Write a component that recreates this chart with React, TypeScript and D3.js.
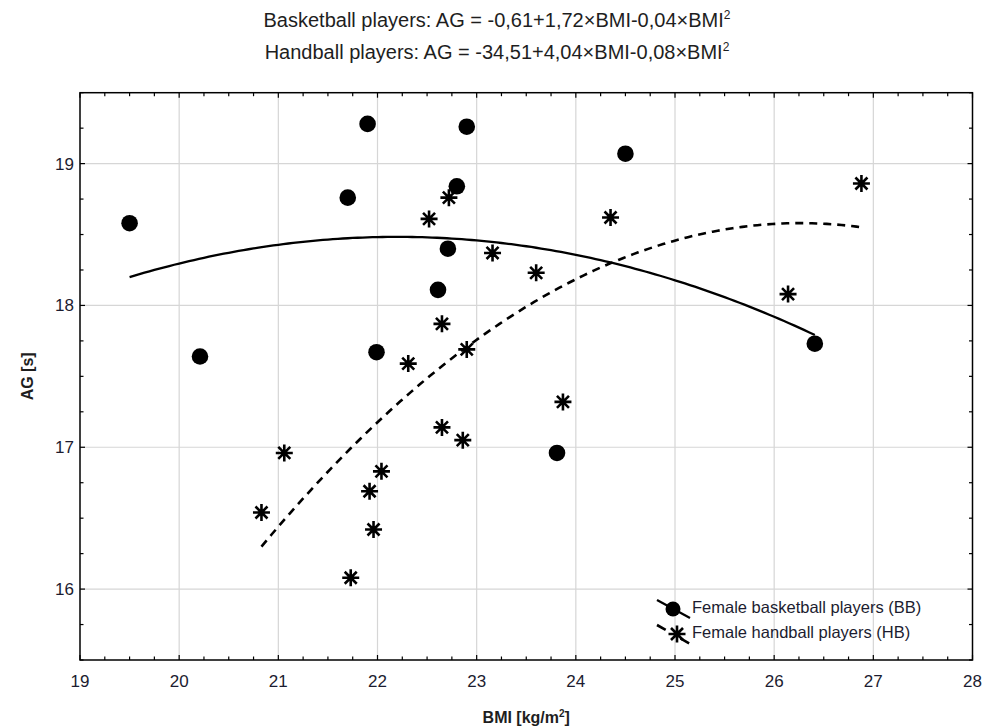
import React from 'react';
import * as d3 from 'd3';

// Female basketball players (BB): BMI and AG values
const bbBMI = [19.5, 20.21, 21.7, 21.9, 21.99, 22.61, 22.71, 22.8, 22.9, 23.81, 24.5, 26.41];
const bbAG = [18.58, 17.64, 18.76, 19.28, 17.67, 18.11, 18.4, 18.84, 19.26, 16.96, 19.07, 17.73];

// Female handball players (HB)
const hbBMI = [20.83, 21.06, 21.73, 21.92, 21.96, 22.04, 22.31, 22.52, 22.65, 22.65, 22.72, 22.86, 22.9, 23.16, 23.6, 23.87, 24.35, 26.14, 26.88];
const hbAG = [16.54, 16.96, 16.08, 16.69, 16.42, 16.83, 17.59, 18.61, 17.87, 17.14, 18.76, 17.05, 17.69, 18.37, 18.23, 17.32, 18.62, 18.08, 18.86];

const xTicks = [19, 20, 21, 22, 23, 24, 25, 26, 27, 28];
const yTicks = [16, 17, 18, 19];

const titleLines = [
  'Basketball players: AG = -0,61+1,72×BMI-0,04×BMI',
  'Handball players: AG = -34,51+4,04×BMI-0,08×BMI',
];
const legendLabels = ['Female basketball players (BB)', 'Female handball players (HB)'];

const W = 982, H = 727;
const plot = { left: 80, right: 972.5, top: 92.7, bottom: 660 };
const font = '"Liberation Sans", Arial, sans-serif';

// least squares quadratic fit y = a + b*x + c*x^2
function quadFit(xs: number[], ys: number[]) {
  const m = d3.mean(xs)!;
  const u = xs.map(v => v - m);
  const s = (k: number) => d3.sum(u, v => Math.pow(v, k));
  const t = (k: number) => d3.sum(u, (v, i) => Math.pow(v, k) * ys[i]);
  const A = [
    [s(0), s(1), s(2), t(0)],
    [s(1), s(2), s(3), t(1)],
    [s(2), s(3), s(4), t(2)],
  ];
  for (let i = 0; i < 3; i++) {
    for (let j = i + 1; j < 3; j++) {
      const f = A[j][i] / A[i][i];
      for (let k = i; k < 4; k++) A[j][k] -= f * A[i][k];
    }
  }
  const c = [0, 0, 0];
  for (let i = 2; i >= 0; i--) {
    let v = A[i][3];
    for (let k = i + 1; k < 3; k++) v -= A[i][k] * c[k];
    c[i] = v / A[i][i];
  }
  return (x: number) => c[0] + c[1] * (x - m) + c[2] * (x - m) * (x - m);
}

const asterisk = (r: number) => {
  const parts: string[] = [];
  for (let k = 0; k < 4; k++) {
    const a = (k * Math.PI) / 4;
    const dx = r * Math.cos(a), dy = r * Math.sin(a);
    parts.push(`M${-dx},${-dy}L${dx},${dy}`);
  }
  return parts.join('');
};

export default function App() {
  const x = d3.scaleLinear().domain([19, 28]).range([plot.left, plot.right]);
  const y = d3.scaleLinear().domain([15.5, 19.5]).range([plot.bottom, plot.top]);

  const bbFit = quadFit(bbBMI, bbAG);
  const hbFit = quadFit(hbBMI, hbAG);
  const line = d3.line<number[]>().x(d => x(d[0])).y(d => y(d[1])).curve(d3.curveLinear);
  const curve = (xs: number[], f: (v: number) => number) => {
    const [lo, hi] = d3.extent(xs) as [number, number];
    const pts = d3.range(lo, hi, 0.05).concat([hi]).map(v => [v, f(v)]);
    return line(pts) || '';
  };

  const xMinor = d3.range(19, 28.001, 0.25);
  const yMinor = d3.range(15.5, 19.501, 0.25);
  const star = asterisk(8.5);

  return (
    <svg width={W} height={H} style={{ position: 'absolute', left: 0, top: 0, background: '#fff' }}>
      <rect width={W} height={H} fill="#fff" />
      {/* title */}
      {titleLines.map((t, i) => (
        <text key={t} x={497} y={27 + i * 32} textAnchor="middle" fontFamily={font} fontSize={20} fill="#1e1e1e">
          {t}
          <tspan fontSize={12} dy={-8}>2</tspan>
        </text>
      ))}

      {/* grid */}
      {xTicks.slice(1, -1).map(v => (
        <line key={'gx' + v} x1={x(v)} x2={x(v)} y1={plot.top} y2={plot.bottom} stroke="#d6d6d6" strokeWidth={1.2} />
      ))}
      {yTicks.map(v => (
        <line key={'gy' + v} x1={plot.left} x2={plot.right} y1={y(v)} y2={y(v)} stroke="#d6d6d6" strokeWidth={1.2} />
      ))}

      {/* inward ticks on all four sides */}
      {xMinor.map(v => {
        const len = Number.isInteger(v) ? 5 : 3.5;
        return (
          <g key={'tx' + v} stroke="#000" strokeWidth={1.2}>
            <line x1={x(v)} x2={x(v)} y1={plot.bottom} y2={plot.bottom - len} />
            <line x1={x(v)} x2={x(v)} y1={plot.top} y2={plot.top + len} />
          </g>
        );
      })}
      {yMinor.map(v => {
        const len = Number.isInteger(v) ? 5 : 3.5;
        return (
          <g key={'ty' + v} stroke="#000" strokeWidth={1.2}>
            <line x1={plot.left} x2={plot.left + len} y1={y(v)} y2={y(v)} />
            <line x1={plot.right} x2={plot.right - len} y1={y(v)} y2={y(v)} />
          </g>
        );
      })}
      <rect x={plot.left} y={plot.top} width={plot.right - plot.left} height={plot.bottom - plot.top}
        fill="none" stroke="#000" strokeWidth={1.5} />

      {/* tick labels */}
      {xTicks.map(v => (
        <text key={'lx' + v} x={x(v)} y={687} textAnchor="middle" fontFamily={font} fontSize={17} fill="#1c1c30">{v}</text>
      ))}
      {yTicks.map(v => (
        <text key={'ly' + v} x={74} y={y(v) + 6} textAnchor="end" fontFamily={font} fontSize={17} fill="#1c1c30">{v}</text>
      ))}

      {/* axis titles */}
      <text x={(plot.left + plot.right) / 2} y={723} textAnchor="middle" fontFamily={font} fontSize={16} fontWeight="bold" fill="#1e1e1e">
        BMI [kg/m<tspan fontSize={10} dy={-6}>2</tspan><tspan dy={6}>]</tspan>
      </text>
      <text transform={`translate(33,${(plot.top + plot.bottom) / 2}) rotate(-90)`} textAnchor="middle"
        fontFamily={font} fontSize={16} fontWeight="bold" fill="#1e1e1e">AG [s]</text>

      {/* fitted curves */}
      <path d={curve(bbBMI, bbFit)} fill="none" stroke="#000" strokeWidth={2.3} />
      <path d={curve(hbBMI, hbFit)} fill="none" stroke="#000" strokeWidth={2.6} strokeDasharray="8,6" />

      {/* points */}
      {bbBMI.map((v, i) => (
        <circle key={'bb' + i} cx={x(v)} cy={y(bbAG[i])} r={8.3} fill="#000" />
      ))}
      {hbBMI.map((v, i) => (
        <path key={'hb' + i} d={star} transform={`translate(${x(v)},${y(hbAG[i])})`} stroke="#000" strokeWidth={2.6} fill="none" />
      ))}

      {/* legend */}
      <g fontFamily={font} fontSize={16.5} fill="#1c1c30">
        <line x1={657} y1={600} x2={690} y2={618} stroke="#000" strokeWidth={2.3} />
        <circle cx={673} cy={609} r={7.5} fill="#000" />
        <text x={692} y={613}>{legendLabels[0]}</text>
        <line x1={657} y1={625} x2={692} y2={645} stroke="#000" strokeWidth={2.6} strokeDasharray="10,17" />
        <path d={star} transform="translate(677,634)" stroke="#000" strokeWidth={2.6} fill="none" />
        <text x={692} y={638}>{legendLabels[1]}</text>
      </g>
    </svg>
  );
}
